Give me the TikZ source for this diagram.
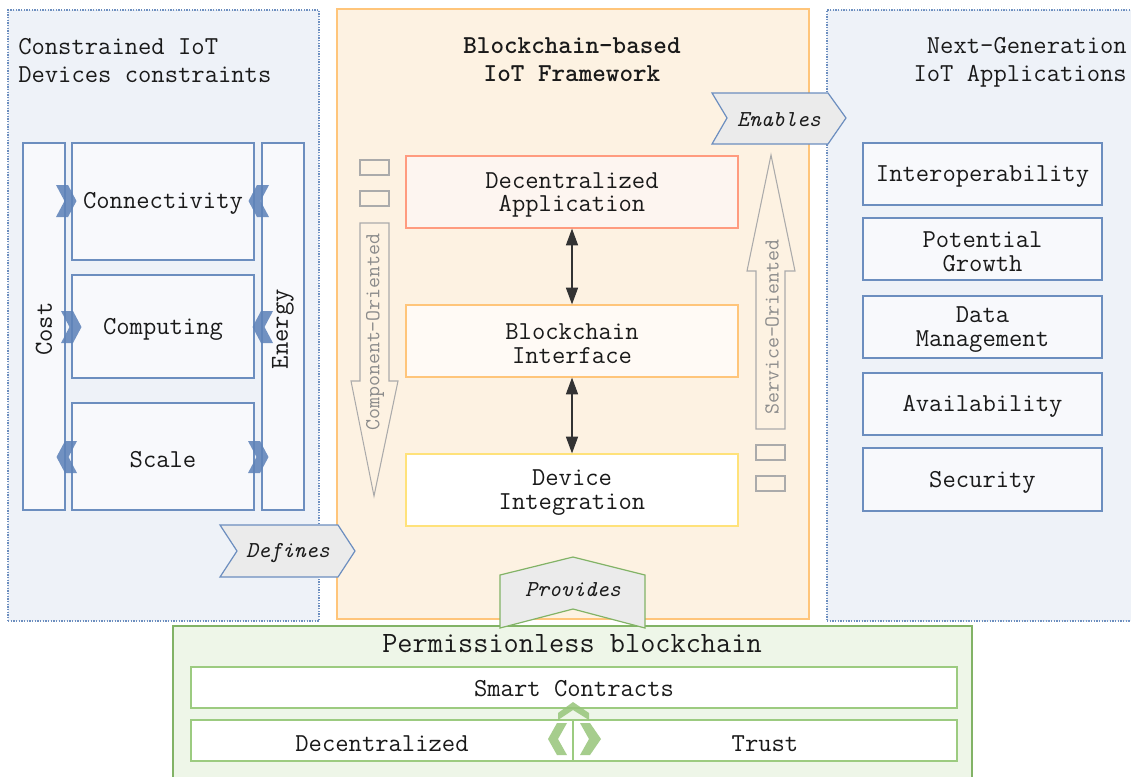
\documentclass[tikz,border=0pt]{standalone}
\usetikzlibrary{fit,arrows.meta}

\definecolor{blueline}{HTML}{6C8EBF}
\definecolor{bluechev}{HTML}{5F83B9}
\definecolor{bluepanel}{HTML}{EEF2F8}
\definecolor{boxfill}{HTML}{F8F9FC}
\definecolor{orangeline}{HTML}{FFC57A}
\definecolor{orangepanel}{HTML}{FDF2E2}
\definecolor{redline}{HTML}{FF9B7F}
\definecolor{dappfill}{HTML}{FDF5F0}
\definecolor{bcifill}{HTML}{FFFAF5}
\definecolor{yellowline}{HTML}{FFE27A}
\definecolor{greenline}{HTML}{82B366}
\definecolor{greenbox}{HTML}{9CCB80}
\definecolor{greenpanel}{HTML}{EEF6E8}
\definecolor{greenchev}{HTML}{97C57A}
\definecolor{tagfill}{HTML}{EBEBEB}
\definecolor{grayline}{HTML}{ABABAB}
\definecolor{graytext}{HTML}{8C8C8C}
\definecolor{ink}{HTML}{1A1A1A}
\definecolor{arrowink}{HTML}{333333}

% Latin Modern Mono: 0.525em per character
\newcommand\mainsz{\ttfamily\fontsize{19.4}{17.5}\selectfont}
\newcommand\titlesz{\ttfamily\fontsize{19.4}{20.8}\selectfont}
\newcommand\tagsz{\ttfamily\itshape\fontsize{17.1}{17}\selectfont}
\newcommand\sidesz{\ttfamily\fontsize{16}{16}\selectfont}
\newcommand\chainsz{\ttfamily\fontsize{22.1}{22}\selectfont}

\tikzset{
  every node/.style={text=ink},
  dotpanel/.style={draw=blueline, fill=bluepanel, dash pattern=on 1pt off 1pt,
    line width=0.8pt, inner sep=0},
  framepanel/.style={draw=orangeline, fill=orangepanel, line width=0.9pt, inner sep=0},
  chainpanel/.style={draw=greenline, fill=greenpanel, line width=0.9pt, inner sep=0},
  bluebox/.style={draw=blueline, fill=boxfill, line width=0.9pt, inner sep=0},
  layerbox/.style={line width=0.9pt, inner sep=0},
  greenbox/.style={draw=greenbox, fill=white, line width=1.1pt, inner sep=0},
  lbl/.style={font=\mainsz, align=center, inner sep=0, yshift=-2pt},
  tag/.style={fill=tagfill, line width=0.9pt, line join=miter},
  tagtext/.style={font=\tagsz, inner sep=0, yshift=-1.5pt},
  hollowarrow/.style={draw=grayline, line width=0.8pt, line join=miter},
  smallbox/.style={draw=grayline, line width=1.2pt, inner sep=0},
  bichev/.style={fill=bluechev, fill opacity=0.88},
  gchev/.style={fill=greenchev, fill opacity=0.85},
  dblarrow/.style={draw=arrowink, line width=0.9pt,
    {Triangle[length=12.5pt,width=9pt]}-{Triangle[length=12.5pt,width=9pt]}},
  chevr/.pic={\path[pic actions] (-1,-16) -- (11,-16) -- (19.5,0) -- (11,16)
    -- (-1,16) -- (7.5,0) -- cycle;}
}

\begin{document}
\begin{tikzpicture}[x=0.75pt,y=-0.75pt]
\useasboundingbox (0,0) rectangle (1131,776);

% ---------- the three columns and the chain layer ----------
\node[dotpanel, fit={(8,10) (319,621)}] (constr) {};
\node[dotpanel, fit={(827,10) (1133,621)}] (nextgen) {};
\node[chainpanel, fit={(173,626) (972,790)}] (chain) {};
\node[framepanel, fit={(337,9) (809,619)}] (frame) {};

% ---------- column titles ----------
\node[font=\titlesz, align=left, anchor=north west, inner sep=0] (constrtitle)
  at (18,38) {Constrained IoT\\Devices constraints};
\node[font=\titlesz, align=right, anchor=north east, inner sep=0] (nexttitle)
  at (1127,37.5) {Next-Generation\\IoT Applications};
\node[font=\titlesz\bfseries, align=center, inner sep=0] (frametitle)
  at (572,59.5) {Blockchain-based\\IoT Framework};

% ---------- device constraints ----------
\node[bluebox, fit={(23,143) (65,510)}] (cost) {};
\node[bluebox, fit={(262,143) (304,510)}] (energy) {};
\node[lbl, rotate=90, yshift=0pt] (costlbl) at (cost.center) {Cost};
\node[lbl, rotate=90, yshift=0pt] (energylbl) at (energy.center) {Energy};
\node[bluebox, fit={(72,143) (254,260)}] (conn) {};
\node[lbl] (connlbl) at (163,201) {Connectivity};
\node[bluebox, fit={(72,275) (254,378)}] (comp) {};
\node[lbl] (complbl2) at (163,327) {Computing};
\node[bluebox, fit={(72,403) (254,510)}] (scale) {};
\node[lbl] (scalelbl) at (163,457) {Scale};

\pic[bichev] at (57,201) {chevr};
\pic[bichev, xscale=-1] at (268,201) {chevr};
\pic[bichev] at (62,327) {chevr};
\pic[bichev, xscale=-1] at (272,327) {chevr};
\pic[bichev, xscale=-1] at (76,457) {chevr};
\pic[bichev] at (249,457) {chevr};

% ---------- framework layers ----------
\node[layerbox, draw=redline, fill=dappfill, fit={(406,156) (738,228)}] (dapp) {};
\node[lbl] (dapplbl) at (dapp.center) {Decentralized\\Application};
\node[layerbox, draw=orangeline, fill=bcifill, fit={(406,305) (738,377)}] (bci) {};
\node[lbl] (bcilbl) at (bci.center) {Blockchain\\Interface};
\node[layerbox, draw=yellowline, fill=white, fit={(406,454) (738,526)}] (devint) {};
\node[lbl] (devintlbl) at (devint.center) {Device\\Integration};

\draw[dblarrow] (dapp.south) -- (bci.north);
\draw[dblarrow] (bci.south) -- (devint.north);

% ---------- orientation arrows ----------
\node[smallbox, fit={(360,160) (389,175)}] (sqa) {};
\node[smallbox, fit={(360,191) (389,206)}] (sqb) {};
\node[smallbox, fit={(756,445) (785,460)}] (sqc) {};
\node[smallbox, fit={(756,476) (785,491)}] (sqd) {};

\draw[hollowarrow] (360,223) -- (389,223) -- (389,381) -- (398,381) -- (374,496)
  -- (351,381) -- (360,381) -- cycle;
\node[font=\sidesz, text=graytext, rotate=90, inner sep=0] (complbl)
  at (375,332) {Component-Oriented};

\draw[hollowarrow] (756,429) -- (785,429) -- (785,271) -- (795,271) -- (771,155)
  -- (747,271) -- (756,271) -- cycle;
\node[font=\sidesz, text=graytext, rotate=90, inner sep=0] (servlbl)
  at (772,327) {Service-Oriented};

% ---------- application goals ----------
\node[bluebox, fit={(863,143) (1102,205)}] (interop) {};
\node[lbl] (interoplbl) at (interop.center) {Interoperability};
\node[bluebox, fit={(863,218) (1102,280)}] (growth) {};
\node[lbl] (growthlbl) at (growth.center) {Potential\\Growth};
\node[bluebox, fit={(863,296) (1102,358)}] (datamgmt) {};
\node[lbl] (datamgmtlbl) at (datamgmt.center) {Data\\Management};
\node[bluebox, fit={(863,373) (1102,435)}] (avail) {};
\node[lbl] (availlbl) at (avail.center) {Availability};
\node[bluebox, fit={(863,448) (1102,511)}] (secur) {};
\node[lbl] (securlbl) at (secur.center) {Security};

% ---------- chain layer ----------
\node[font=\chainsz, inner sep=0] (chaintitle)
  at (572,644) {Permissionless blockchain};
\node[greenbox, fit={(191,667) (957,708)}] (smart) {};
\node[lbl, yshift=1pt] (smartlbl) at (smart.center) {Smart Contracts};
\node[greenbox, fit={(191,720) (573,761)}] (decent) {};
\node[lbl] (decentlbl) at (decent.center) {Decentralized};
\node[greenbox, fit={(573,720) (957,761)}] (trust) {};
\node[lbl] (trustlbl) at (trust.center) {Trust};

\fill[gchev] (558,720) -- (558,713) -- (573,702) -- (589,713) -- (589,720)
  -- (573,710) -- cycle;
\fill[gchev] (567,723) -- (557,723) -- (548,739) -- (557,755) -- (567,755)
  -- (558,739) -- cycle;
\fill[gchev] (580,723) -- (590,723) -- (601,739) -- (590,755) -- (580,755)
  -- (589,739) -- cycle;

% ---------- relation tags ----------
\draw[tag, draw=blueline] (712,93) -- (828,93) -- (846,118) -- (828,144)
  -- (712,144) -- (727,118) -- cycle;
\node[tagtext] (enables) at (779,118) {Enables};

\draw[tag, draw=blueline] (220,525) -- (338,525) -- (355,551) -- (338,577)
  -- (220,577) -- (237,551) -- cycle;
\node[tagtext] (defines) at (288,551) {Defines};

\draw[tag, draw=greenline] (500,575) -- (573,557) -- (645,575) -- (645,628)
  -- (573,609) -- (500,628) -- cycle;
\node[tagtext] (provides) at (573,588) {Provides};
\end{tikzpicture}
\end{document}
